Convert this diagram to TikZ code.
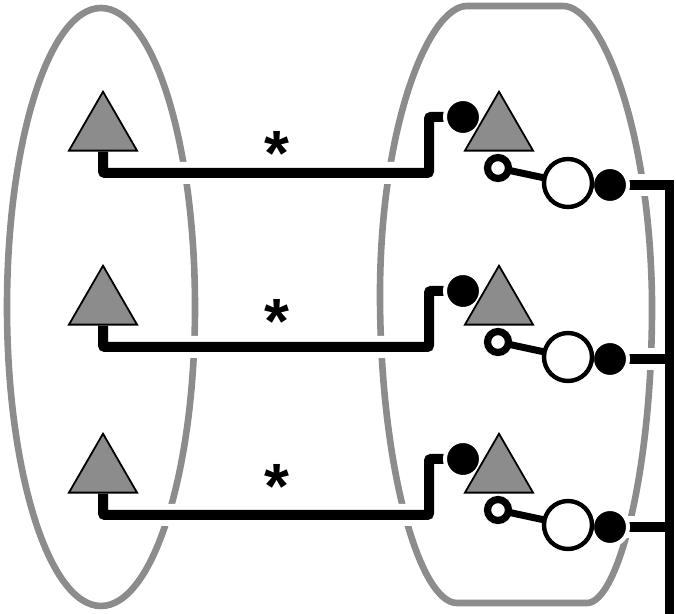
\documentclass[tikz,border=0pt]{standalone}
\usepackage{fontspec}
\newfontfamily\starfont{Liberation Sans}
\usetikzlibrary{shapes.geometric}
\pgfdeclarelayer{bg}
\pgfsetlayers{bg,main}
\tikzset{
  tri/.style={regular polygon,regular polygon sides=3,draw=black,fill=black!45,line width=.9pt,minimum size=39.3pt,inner sep=0pt},
  dot/.style={circle,fill=black,draw=white,line width=2pt,minimum size=18pt,inner sep=0pt},
  hollow/.style={circle,draw=black,fill=white,line width=3.6pt,minimum size=10.5pt,inner sep=0pt},
  cellv/.style={circle,draw=black,fill=white,line width=2.2pt,minimum size=24pt,inner sep=0pt},
  shell/.style={draw=black!45,line width=3.3pt},
  wire/.style={line width=5pt,black,rounded corners=1pt,preaction={draw=white,line width=11pt}},
  link/.style={line width=3.5pt,black},
  busline/.style={line width=4.5pt,black,line cap=rect},
  star/.style={font=\starfont\bfseries\fontsize{32}{32}\selectfont,inner sep=0pt,anchor=north}
}
\begin{document}
\begin{tikzpicture}[x=0.5pt,y=-0.5pt]
  \useasboundingbox (0,0) rectangle (676,614);
  % gray shells
  \begin{pgfonlayer}{bg}
    \draw[shell] (101,307) ellipse [x radius=47pt,y radius=149.5pt];
    \draw[shell] (467,6) -- (563,6) .. controls (602,6) and (650,130) .. (652,300)
      .. controls (653,470) and (618,603) .. (587,603) -- (457,603)
      .. controls (420,603) and (381,470) .. (380,300)
      .. controls (379,130) and (428,6) .. (467,6) -- cycle;
  \end{pgfonlayer}
  % row 1
  \node[dot] (dl1) at (463,117) {};
  \node[dot] (dr1) at (610,185) {};
  \node[tri] (tl1) at (103,131) {};
  \node[tri] (tr1) at (499,131) {};
  \node[hollow] (so1) at (498,168) {};
  \node[cellv] (cb1) at (568,183) {};
  \coordinate (k1) at (429,173);
  \node[star] (s1) at (277,131) {*};
  % row 2
  \node[dot] (dl2) at (463,291) {};
  \node[dot] (dr2) at (610,359) {};
  \node[tri] (tl2) at (103,305) {};
  \node[tri] (tr2) at (499,305) {};
  \node[hollow] (so2) at (498,342) {};
  \node[cellv] (cb2) at (568,357) {};
  \coordinate (k2) at (429,347);
  \node[star] (s2) at (277,299) {*};
  % row 3
  \node[dot] (dl3) at (463,459) {};
  \node[dot] (dr3) at (610,527) {};
  \node[tri] (tl3) at (103,473) {};
  \node[tri] (tr3) at (499,473) {};
  \node[hollow] (so3) at (498,510) {};
  \node[cellv] (cb3) at (568,525) {};
  \coordinate (k3) at (429,515);
  \node[star] (s3) at (277,464) {*};
  \coordinate (bus) at (669,614);
  % wires
  \begin{pgfonlayer}{bg}
    \draw[wire] (tl1.south) |- (k1) |- (dl1.center);
    \draw[wire] (tl2.south) |- (k2) |- (dl2.center);
    \draw[wire] (tl3.south) |- (k3) |- (dl3.center);
    \draw[link] (so1.center) -- (cb1.center);
    \draw[link] (so2.center) -- (cb2.center);
    \draw[link] (so3.center) -- (cb3.center);
    \draw[wire] (dr1.center) -- (dr1.center -| bus);
    \draw[wire] (dr2.center) -- (dr2.center -| bus);
    \draw[wire] (dr3.center) -- (dr3.center -| bus);
    \draw[busline] (dr1.center -| bus) -- (bus);
  \end{pgfonlayer}
\end{tikzpicture}
\end{document}
